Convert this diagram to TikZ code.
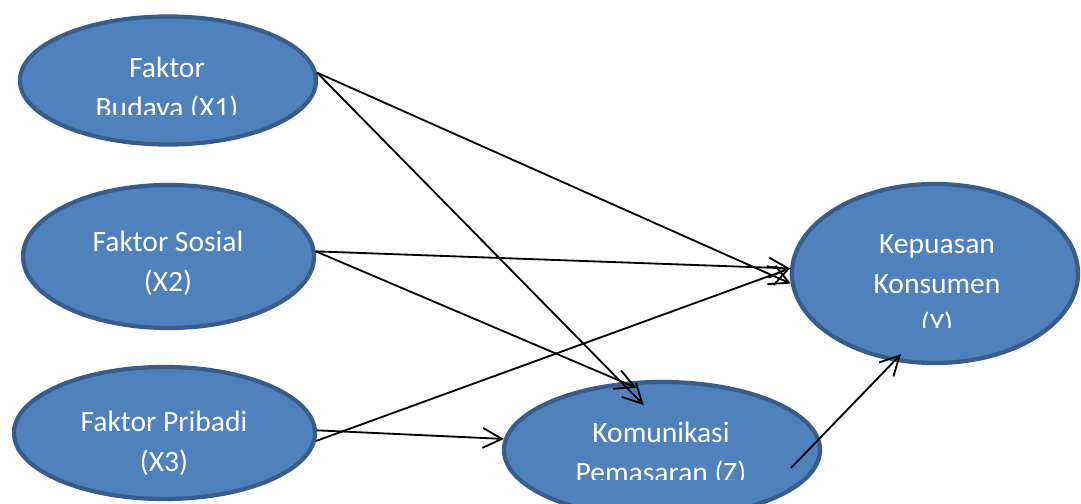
\documentclass[tikz,border=0pt]{standalone}
\usepackage{fontspec}
\setmainfont{Carlito}
\usetikzlibrary{arrows.meta,shapes.geometric}
\definecolor{varfill}{HTML}{4F81BD}
\definecolor{varedge}{HTML}{385D8A}
\tikzset{var/.style={ellipse, fill=varfill, draw=varedge, line width=3pt, inner sep=0pt},
  varlabel/.style={text=white, align=center, inner sep=0pt, font=\fontsize{21}{28.5}\selectfont},
  link/.style={->, black, line width=1.3pt}}
\begin{document}
\begin{tikzpicture}[x=0.025cm, y=-0.025cm, >={Straight Barb[length=4.8mm,width=5mm]}]
\useasboundingbox (0,0) rectangle (1081,504);
\clip (0,0) rectangle (1081,504);
\fill[white] (0,0) rectangle (1081,504);
\node[var, minimum width=7.4cm, minimum height=3.2cm] (x1) at (168,80.5) {};
\node[var, minimum width=7.275cm, minimum height=3.575cm] (x2) at (168.5,256.5) {};
\node[var, minimum width=7.525cm, minimum height=3.3cm] (x3) at (164.5,433) {};
\node[var, minimum width=7.9cm, minimum height=3.4cm] (z) at (662,450) {};
\node[var, minimum width=7.15cm, minimum height=4.475cm] (y) at (935,273.5) {};

\begin{scope}\clip (0,0) rectangle (1081,115);
  \node[varlabel] (x1text) at (167,90) {Faktor\\Budaya (X1)};
\end{scope}
\node[varlabel] (x2text) at (168,263) {Faktor Sosial\\(X2)};
\node[varlabel] (x3text) at (164,443.5) {Faktor Pribadi\\(X3)};
\begin{scope}\clip (0,0) rectangle (1081,328);
  \node[varlabel] (ytext) at (937,286) {Kepuasan\\Konsumen\\(Y)};
\end{scope}
\begin{scope}\clip (0,0) rectangle (1081,480);
  \node[varlabel] (ztext) at (661,454) {Komunikasi\\Pemasaran (Z)};
\end{scope}

\coordinate (zout) at (791,468);
\draw[link] (x1.3) -- (y.184);
\draw[link, shorten >=-0.8cm] (x1.3) -- (z.121);
\draw[link] (x2.2) -- (y.178);
\draw[link, shorten >=-0.375cm] (x2.2) -- (z.120);
\draw[link] (x3.-3) -- (y.178);
\draw[link] (x3.1) -- (z.176);
\draw[link, shorten >=-0.25cm] (zout) -- (y.245);
\end{tikzpicture}
\end{document}
